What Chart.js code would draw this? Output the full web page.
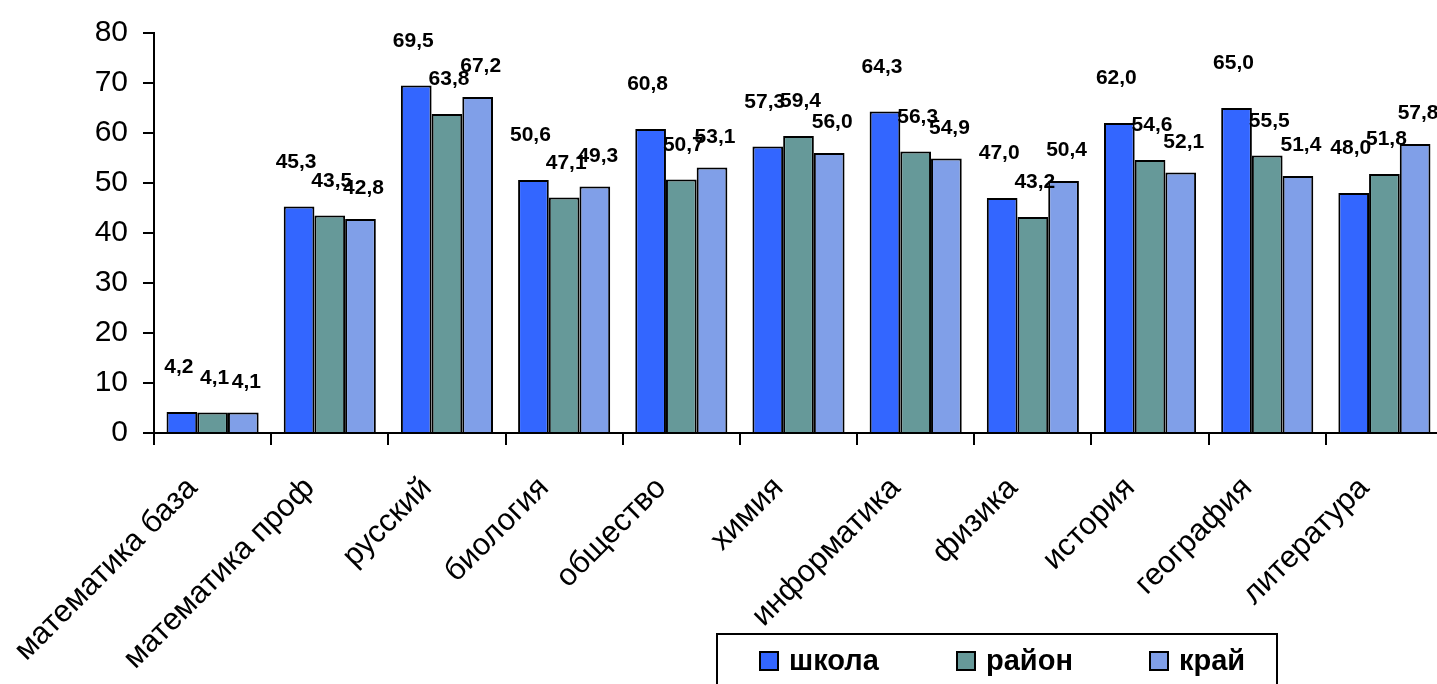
<!DOCTYPE html>
<html>
<head>
<meta charset="utf-8">
<script src="https://cdn.jsdelivr.net/npm/chart.js@4.4.1/dist/chart.umd.min.js"></script>
<style>
  html, body { margin: 0; padding: 0; background: #fff; overflow: hidden; }
  #wrap { position: relative; width: 1443px; height: 684px; }
</style>
</head>
<body>
<div id="wrap"><canvas id="myChart"></canvas></div>
<script>
const categories = [
  'математика база', 'математика проф', 'русский', 'биология', 'общество',
  'химия', 'информатика', 'физика', 'история', 'география', 'литература'
]
const seriesNames = ['школа', 'район', 'край']
const school = [4.2, 45.3, 69.5, 50.6, 60.8, 57.3, 64.3, 47.0, 62.0, 65.0, 48.0]
const district = [4.1, 43.5, 63.8, 47.1, 50.7, 59.4, 56.3, 43.2, 54.6, 55.5, 51.8]
const region = [4.1, 42.8, 67.2, 49.3, 53.1, 56.0, 54.9, 50.4, 52.1, 51.4, 57.8]
const yTicks = [0, 10, 20, 30, 40, 50, 60, 70, 80]

const colors = ['#3366ff', '#669999', '#809fe8']
const FONT = '"Liberation Sans", Arial, sans-serif'

// value labels above bars, a bit staggered like the original
const labelDx = [-3, 2, 3]
const labelGap = [34, 24, 20]
const valueLabels = {
  id: 'valueLabels',
  afterDatasetsDraw(chart) {
    const ctx = chart.ctx
    ctx.save()
    ctx.font = 'bold 21px ' + FONT
    ctx.fillStyle = '#000'
    ctx.textAlign = 'center'
    ctx.textBaseline = 'bottom'
    chart.data.datasets.forEach((ds, i) => {
      chart.getDatasetMeta(i).data.forEach((bar, j) => {
        const txt = ds.data[j].toFixed(1).replace('.', ',')
        ctx.fillText(txt, bar.x + labelDx[i], bar.y - labelGap[i])
      })
    })
    ctx.restore()
  }
}

// boxed legend at the bottom, as in the source chart
const boxLegend = {
  id: 'boxLegend',
  afterDraw(chart) {
    const ctx = chart.ctx
    ctx.save()
    ctx.lineWidth = 2
    ctx.strokeStyle = '#000'
    ctx.strokeRect(717, 634, 560, 80)
    ctx.font = 'bold 29px ' + FONT
    ctx.textBaseline = 'middle'
    ctx.textAlign = 'left'
    const xs = [760, 957, 1150]
    chart.data.datasets.forEach((ds, i) => {
      ctx.fillStyle = ds.backgroundColor
      ctx.fillRect(xs[i], 652, 18, 18)
      ctx.strokeRect(xs[i], 652, 18, 18)
      ctx.fillStyle = '#000'
      ctx.fillText(ds.label, xs[i] + 29, 662)
    })
    ctx.restore()
  }
}

const ctx = document.getElementById('myChart')
const myChart = new Chart(ctx, {
  type: 'bar',
  data: {
    labels: categories,
    datasets: [school, district, region].map((d, i) => ({
      label: seriesNames[i],
      data: d,
      backgroundColor: colors[i],
      borderColor: '#000',
      borderWidth: 2,
      borderSkipped: 'bottom',
      categoryPercentage: 0.786,
      barPercentage: 1
    }))
  },
  options: {
    responsive: true,
    maintainAspectRatio: false,
    animation: false,
    layout: { padding: 0 },
    plugins: {
      legend: { display: false },
      tooltip: { enabled: false }
    },
    scales: {
      x: {
        grid: {
          drawOnChartArea: false,
          color: '#000',
          lineWidth: 2,
          tickLength: 12
        },
        border: { color: '#000', width: 2 },
        ticks: {
          color: '#000',
          font: { family: FONT, size: 31 },
          maxRotation: 45,
          minRotation: 45,
          autoSkip: false,
          padding: 25,
          labelOffset: -20
        },
        afterFit(scale) { scale.height = 251 }
      },
      y: {
        min: 0,
        max: 80,
        afterBuildTicks(scale) { scale.ticks = yTicks.map(v => ({ value: v })) },
        grid: {
          drawOnChartArea: false,
          color: '#000',
          lineWidth: 2,
          tickLength: 11
        },
        border: { color: '#000', width: 2 },
        ticks: {
          color: '#000',
          font: { family: FONT, size: 30 },
          padding: 15
        },
        afterFit(scale) { scale.width = 154 }
      }
    }
  },
  plugins: [valueLabels, boxLegend]
})
</script>
</body>
</html>
